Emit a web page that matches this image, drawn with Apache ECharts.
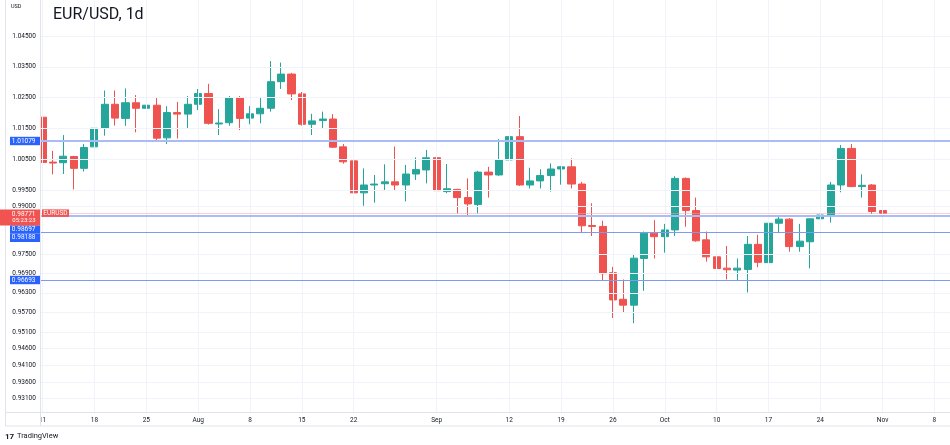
<!DOCTYPE html>
<html>
<head>
<meta charset="utf-8">
<title>EUR/USD, 1d</title>
<script src="https://cdn.jsdelivr.net/npm/echarts@6/dist/echarts.min.js"></script>
<style>
  html, body { margin: 0; padding: 0; background: #fff; }
  #chart { width: 950px; height: 445px; }
</style>
</head>
<body>
<div id="chart"></div>
<script>
// trading days Jul 11 - Nov 1 2022, then empty days up to the right edge
const dates = [
  '2022-07-11', '2022-07-12', '2022-07-13', '2022-07-14', '2022-07-15',
  '2022-07-18', '2022-07-19', '2022-07-20', '2022-07-21', '2022-07-22',
  '2022-07-25', '2022-07-26', '2022-07-27', '2022-07-28', '2022-07-29',
  '2022-08-01', '2022-08-02', '2022-08-03', '2022-08-04', '2022-08-05',
  '2022-08-08', '2022-08-09', '2022-08-10', '2022-08-11', '2022-08-12',
  '2022-08-15', '2022-08-16', '2022-08-17', '2022-08-18', '2022-08-19',
  '2022-08-22', '2022-08-23', '2022-08-24', '2022-08-25', '2022-08-26',
  '2022-08-29', '2022-08-30', '2022-08-31', '2022-09-01', '2022-09-02',
  '2022-09-05', '2022-09-06', '2022-09-07', '2022-09-08', '2022-09-09',
  '2022-09-12', '2022-09-13', '2022-09-14', '2022-09-15', '2022-09-16',
  '2022-09-19', '2022-09-20', '2022-09-21', '2022-09-22', '2022-09-23',
  '2022-09-26', '2022-09-27', '2022-09-28', '2022-09-29', '2022-09-30',
  '2022-10-03', '2022-10-04', '2022-10-05', '2022-10-06', '2022-10-07',
  '2022-10-10', '2022-10-11', '2022-10-12', '2022-10-13', '2022-10-14',
  '2022-10-17', '2022-10-18', '2022-10-19', '2022-10-20', '2022-10-21',
  '2022-10-24', '2022-10-25', '2022-10-26', '2022-10-27', '2022-10-28',
  '2022-10-31', '2022-11-01',
  '2022-11-02', '2022-11-03', '2022-11-04', '2022-11-07', '2022-11-08', '2022-11-09'
]

const opens = [
  1.0185, 1.0040, 1.0038, 1.0058, 1.0020,
  1.0089, 1.0149, 1.0227, 1.0181, 1.0232,
  1.0214, 1.0224, 1.0118, 1.0200, 1.0195,
  1.0227, 1.0262, 1.0163, 1.0167, 1.0248,
  1.0182, 1.0196, 1.0214, 1.0301, 1.0326,
  1.0261, 1.0162, 1.0174, 1.0179, 1.0089,
  1.0044, 0.9942, 0.9967, 0.9971, 0.9977,
  0.9967, 1.0002, 1.0015, 1.0054, 0.9946,
  0.9953, 0.9927, 0.9905, 1.0008, 0.9999,
  1.0047, 1.0122, 0.9967, 0.9980, 0.9997,
  1.0018, 1.0025, 0.9970, 0.9839, 0.9836,
  0.9692, 0.9610, 0.9592, 0.9736, 0.9815,
  0.9804, 0.9825, 0.9988, 0.9886, 0.9794,
  0.9741, 0.9706, 0.9700, 0.9702, 0.9780,
  0.9723, 0.9846, 0.9859, 0.9773, 0.9788,
  0.9860, 0.9872, 0.9967, 1.0084, 0.9962,
  0.9967, 0.9886
]
const highs = [
  1.0186, 1.0076, 1.0127, 1.0060, 1.0098,
  1.0203, 1.0272, 1.0272, 1.0279, 1.0257,
  1.0257, 1.0251, 1.0221, 1.0235, 1.0254,
  1.0277, 1.0294, 1.0211, 1.0254, 1.0254,
  1.0221, 1.0249, 1.0369, 1.0364, 1.0330,
  1.0267, 1.0196, 1.0203, 1.0195, 1.0098,
  1.0047, 1.0020, 0.9999, 1.0033, 1.0090,
  1.0031, 1.0055, 1.0079, 1.0057, 1.0034,
  0.9955, 0.9988, 1.0012, 1.0025, 1.0114,
  1.0198, 1.0189, 1.0022, 1.0017, 1.0036,
  1.0028, 1.0052, 0.9977, 0.9909, 0.9854,
  0.9710, 0.9671, 0.9750, 0.9820, 0.9856,
  0.9844, 0.9995, 0.9991, 0.9927, 0.9820,
  0.9752, 0.9775, 0.9736, 0.9806, 0.9810,
  0.9853, 0.9867, 0.9862, 0.9844, 0.9855,
  0.9901, 0.9977, 1.0095, 1.0098, 1.0001,
  0.9970, 0.9954
]
const lows = [
  1.0032, 1.0001, 1.0002, 0.9953, 1.0010,
  1.0084, 1.0125, 1.0158, 1.0157, 1.0136,
  1.0181, 1.0111, 1.0098, 1.0116, 1.0150,
  1.0208, 1.0161, 1.0127, 1.0157, 1.0143,
  1.0162, 1.0165, 1.0203, 1.0277, 1.0241,
  1.0158, 1.0127, 1.0148, 1.0086, 1.0035,
  0.9927, 0.9901, 0.9911, 0.9951, 0.9949,
  0.9915, 0.9983, 0.9972, 0.9912, 0.9941,
  0.9877, 0.9867, 0.9877, 0.9927, 0.9996,
  1.0044, 0.9964, 0.9956, 0.9956, 0.9946,
  0.9968, 0.9956, 0.9815, 0.9806, 0.9669,
  0.9553, 0.9568, 0.9537, 0.9636, 0.9736,
  0.9754, 0.9806, 0.9835, 0.9788, 0.9726,
  0.9683, 0.9671, 0.9669, 0.9631, 0.9709,
  0.9721, 0.9815, 0.9757, 0.9757, 0.9705,
  0.9806, 0.9848, 0.9944, 0.9960, 0.9927,
  0.9875, 0.9858
]
const closes = [
  1.0039, 1.0037, 1.0059, 1.0020, 1.0087,
  1.0149, 1.0227, 1.0182, 1.0232, 1.0214,
  1.0224, 1.0117, 1.0200, 1.0195, 1.0227,
  1.0262, 1.0165, 1.0166, 1.0248, 1.0181,
  1.0196, 1.0214, 1.0301, 1.0326, 1.0261,
  1.0162, 1.0173, 1.0179, 1.0088, 1.0041,
  0.9942, 0.9967, 0.9970, 0.9977, 0.9967,
  1.0002, 1.0016, 1.0054, 0.9949, 0.9955,
  0.9927, 0.9907, 1.0008, 0.9999, 1.0047,
  1.0122, 0.9967, 0.9980, 0.9997, 1.0018,
  1.0025, 0.9970, 0.9838, 0.9836, 0.9689,
  0.9608, 0.9592, 0.9737, 0.9815, 0.9804,
  0.9825, 0.9988, 0.9886, 0.9791, 0.9741,
  0.9705, 0.9701, 0.9706, 0.9780, 0.9724,
  0.9846, 0.9859, 0.9773, 0.9790, 0.9860,
  0.9872, 0.9967, 1.0084, 0.9962, 0.9966,
  0.9883, 0.98771
]

// x axis tick labels
const labelDates = ['2022-07-11', '2022-07-18', '2022-07-25', '2022-08-01', '2022-08-08', '2022-08-15',
  '2022-08-22', '2022-09-01', '2022-09-12', '2022-09-19', '2022-09-26', '2022-10-03',
  '2022-10-10', '2022-10-17', '2022-10-24', '2022-11-01', '2022-11-08']
const labelTexts = ['11', '18', '25', 'Aug', '8', '15', '22', 'Sep', '12', '19', '26', 'Oct',
  '10', '17', '24', 'Nov', '8']

// price scale tick labels (log scale)
const priceTicks = [1.045, 1.035, 1.025, 1.015, 1.005, 0.995, 0.990, 0.975,
  0.969, 0.963, 0.957, 0.951, 0.946, 0.941, 0.936, 0.931]

// horizontal levels drawn on the chart
const levels = [1.01079, 0.98697, 0.98188, 0.96693]
const lastPrice = 0.98771

const yMin = 0.92690
const yMax = 1.05731
const FONT = 'Roboto, "Noto Sans", sans-serif'

const chart = echarts.init(document.getElementById('chart'))

const candles = opens.map((o, i) => [Math.log(o), Math.log(closes[i]), Math.log(lows[i]), Math.log(highs[i])])
const labelOf = {}
labelDates.forEach((d, i) => { labelOf[d] = labelTexts[i] })

chart.setOption({
  animation: false,
  backgroundColor: '#ffffff',
  grid: { left: 37.4, top: 0, width: 914.1, height: 412.5 },
  xAxis: {
    type: 'category',
    data: dates,
    boundaryGap: true,
    axisLine: { show: false },
    axisTick: { show: false },
    splitLine: { show: false },
    axisLabel: {
      interval: (idx, val) => labelOf[val] !== undefined,
      formatter: val => labelOf[val] || '',
      margin: 4,
      fontSize: 6.5,
      color: '#131722',
      fontFamily: FONT
    }
  },
  yAxis: {
    type: 'value',
    min: Math.log(yMin),
    max: Math.log(yMax),
    axisLine: { show: false },
    axisTick: { show: false },
    splitLine: { show: false },
    axisLabel: {
      customValues: priceTicks.map(Math.log),
      formatter: v => Math.exp(v).toFixed(5),
      margin: 1.5,
      fontSize: 6.5,
      color: '#131722',
      fontFamily: FONT
    }
  },
  series: [
    {
      // grid lines
      type: 'line',
      data: [],
      z: 1,
      markLine: {
        silent: true,
        precision: 10,
        symbol: ['none', 'none'],
        label: { show: false },
        lineStyle: { color: '#f0f3fa', width: 1, type: 'solid' },
        data: labelDates.map(d => ({ xAxis: d })).concat(priceTicks.map(p => ({ yAxis: Math.log(p) })))
      }
    },
    {
      type: 'candlestick',
      data: candles,
      barWidth: 7.6,
      z: 2,
      itemStyle: {
        color: '#26a69a',
        color0: '#ef5350',
        borderColor: '#26a69a',
        borderColor0: '#ef5350',
        borderWidth: 1
      }
    },
    {
      // horizontal levels + last price
      type: 'line',
      data: [],
      z: 3,
      markLine: {
        silent: true,
        precision: 10,
        symbol: ['none', 'none'],
        label: { show: false },
        data: [
          { yAxis: Math.log(levels[0]), lineStyle: { color: '#a9bcf8', width: 2, type: 'solid' } },
          { yAxis: Math.log(levels[1]), lineStyle: { color: '#a9bcf8', width: 2, type: 'solid' } },
          { yAxis: Math.log(levels[2]), lineStyle: { color: '#7d9bf6', width: 1.2, type: 'solid' } },
          { yAxis: Math.log(levels[3]), lineStyle: { color: '#7d9bf6', width: 1.2, type: 'solid' } },
          { yAxis: Math.log(lastPrice), lineStyle: { color: '#f5a3a2', width: 1, type: 'dotted' } }
        ]
      }
    }
  ]
})

// price labels on the scale, placed from the axis mapping
const yOf = p => chart.convertToPixel({ yAxisIndex: 0 }, Math.log(p))

function box (text, x, y, w, h, fill, align) {
  return [
    { type: 'rect', z: 20, shape: { x: x, y: y, width: w, height: h }, style: { fill: fill } },
    {
      type: 'text', z: 21,
      style: {
        text: text, x: align === 'center' ? x + w / 2 : x + w - 4.5, y: y + h / 2,
        align: align || 'right', verticalAlign: 'middle',
        fill: '#ffffff', fontSize: 6.5, fontFamily: FONT
      }
    }
  ]
}

const yLast = yOf(lastPrice)
const redTop = yLast - 4
const redBottom = redTop + 16
const g = [
  // clip strip + frame
  { type: 'rect', z: 5, shape: { x: 37, y: 0, width: 3.5, height: 427 }, style: { fill: '#ffffff' } },
  { type: 'line', z: 6, shape: { x1: 40.5, y1: 0, x2: 40.5, y2: 426 }, style: { stroke: '#e0e3eb', lineWidth: 1 } },
  { type: 'line', z: 6, shape: { x1: 5.5, y1: 0, x2: 5.5, y2: 426 }, style: { stroke: '#e0e3eb', lineWidth: 1 } },
  { type: 'line', z: 6, shape: { x1: 5.5, y1: 412.5, x2: 950, y2: 412.5 }, style: { stroke: '#e0e3eb', lineWidth: 1 } },
  { type: 'line', z: 6, shape: { x1: 5.5, y1: 426, x2: 950, y2: 426 }, style: { stroke: '#e0e3eb', lineWidth: 1 } },
  // titles
  { type: 'text', z: 20, style: { text: 'USD', x: 11, y: 7, verticalAlign: 'middle', fontSize: 5.5, fill: '#131722', fontFamily: FONT } },
  { type: 'text', z: 20, style: { text: 'EUR/USD, 1d', x: 53, y: 15, verticalAlign: 'middle', fontSize: 16, fill: '#131722', fontFamily: FONT } },
  // logo
  { type: 'text', z: 20, style: { text: '17', x: 5, y: 436.5, verticalAlign: 'middle', fontSize: 8, fontWeight: 'bold', fill: '#131722', fontFamily: FONT } },
  { type: 'text', z: 20, style: { text: 'TradingView', x: 17, y: 436.5, verticalAlign: 'middle', fontSize: 7.5, fill: '#131722', fontFamily: FONT } }
]
  .concat(box(levels[0].toFixed(5), 10, yOf(levels[0]) - 4.2, 30, 8.4, '#2962ff'))
  .concat(box(levels[3].toFixed(5), 10, yOf(levels[3]) - 4.2, 30, 8.4, '#2962ff'))
  .concat(box(levels[1].toFixed(5), 10, redBottom, 30, 8.3, '#2962ff'))
  .concat(box(levels[2].toFixed(5), 10, redBottom + 8.3, 30, 8.3, '#2962ff'))
  .concat([
    { type: 'rect', z: 20, shape: { x: 0, y: redTop, width: 40, height: 16 }, style: { fill: '#f05350' } },
    { type: 'text', z: 21, style: { text: lastPrice.toFixed(5), x: 35.5, y: redTop + 4.5, align: 'right', verticalAlign: 'middle', fill: '#fff', fontSize: 6.5, fontFamily: FONT } },
    { type: 'text', z: 21, style: { text: '05:23:23', x: 35.5, y: redTop + 11.5, align: 'right', verticalAlign: 'middle', fill: '#fff', fontSize: 6, fontFamily: FONT } }
  ])
  .concat(box('EURUSD', 42, redTop, 27, 7.5, '#f05350', 'center'))

chart.setOption({ graphic: g })
</script>
</body>
</html>
